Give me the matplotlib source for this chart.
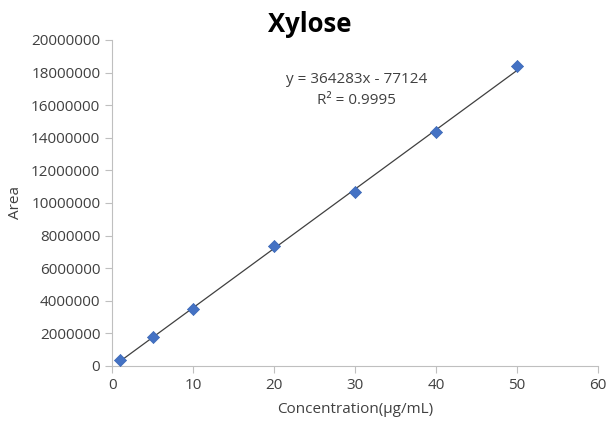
import numpy as np
import matplotlib.pyplot as plt

plt.rcParams['font.family'] = ['Open Sans', 'DejaVu Sans']

# Xylose calibration standards
conc = [1, 5, 10, 20, 30, 40, 50]
area = [370000, 1780000, 3500000, 7360000, 10700000, 14330000, 18380000]
slope = 364283
intercept = -77124
r2 = 0.9995

fig = plt.figure(figsize=(6.06, 4.21), dpi=100)
ax = fig.add_axes([0.185, 0.131, 0.802, 0.774])

# trendline over the data range
xs = np.array([min(conc), max(conc)])
ax.plot(xs, slope * xs + intercept, color='#404040', lw=0.9, zorder=2)
ax.scatter(conc, area, marker='D', s=38, color='#4472C4', edgecolors='#3A66B5',
           linewidths=0.5, zorder=3)

ax.set_xlim(0, 60)
ax.set_ylim(0, 20000000)
ax.set_xticks(range(0, 61, 10))
ax.set_yticks(range(0, 20000001, 2000000))
ax.set_yticklabels([str(v) for v in range(0, 20000001, 2000000)])

for s in ['top', 'right']:
    ax.spines[s].set_visible(False)
for s in ['left', 'bottom']:
    ax.spines[s].set_color('#BFBFBF')
ax.tick_params(colors='#BFBFBF', labelcolor='#404040', labelsize=11, length=5)

ax.set_xlabel('Concentration(μg/mL)', fontsize=11, color='#404040', labelpad=7)
ax.set_ylabel('Area', fontsize=11, color='#404040', labelpad=6)
fig.suptitle('Xylose', x=0.511, y=0.975, fontsize=18.5, fontweight='bold')

ax.text(30.2, 17600000, f'y = {slope}x - {abs(intercept)}', ha='center', va='center',
        fontsize=11, color='#404040')
ax.text(30.2, 16260000, f'R² = {r2}', ha='center', va='center',
        fontsize=11, color='#404040')

fig.savefig('out.png', dpi=100)
